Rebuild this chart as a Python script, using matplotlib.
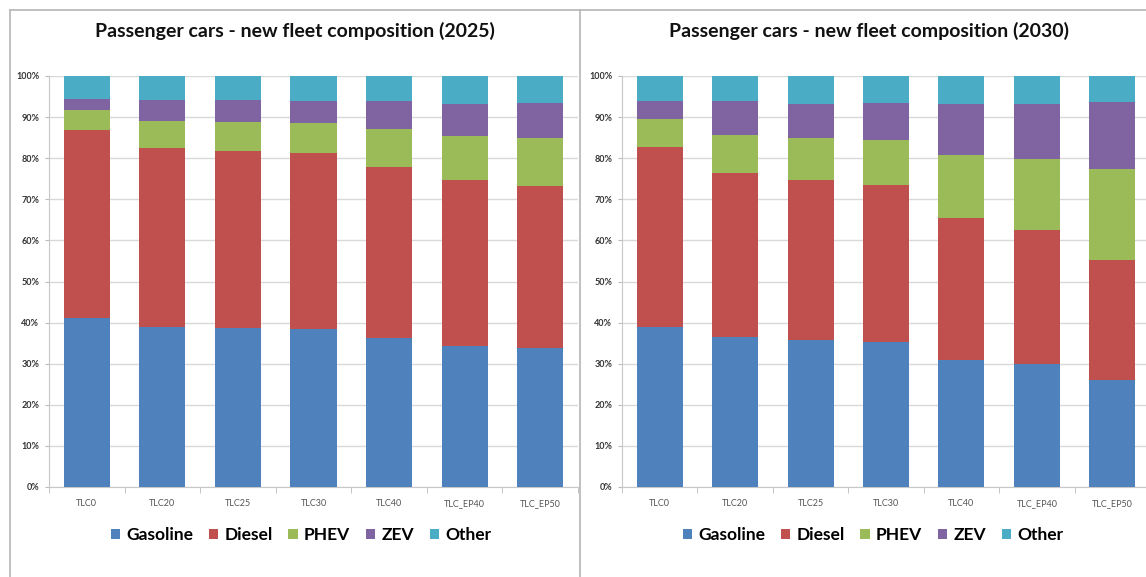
import matplotlib
matplotlib.use("Agg")
import matplotlib.pyplot as plt
import numpy as np
from matplotlib.lines import Line2D
from matplotlib.patches import Patch

categories = ["TLC0", "TLC20", "TLC25", "TLC30", "TLC40", "TLC_EP40", "TLC_EP50"]
series_names = ["Gasoline", "Diesel", "PHEV", "ZEV", "Other"]
colors = ["#4F81BD", "#C0504D", "#9BBB59", "#8064A2", "#4BACC6"]

# 2025 shares (%)
gasoline_2025 = [41.0, 39.0, 38.6, 38.4, 36.3, 34.2, 33.8]
diesel_2025 = [45.9, 43.4, 43.2, 42.9, 41.6, 40.4, 39.4]
phev_2025 = [4.8, 6.7, 7.0, 7.2, 9.2, 10.7, 11.7]
zev_2025 = [2.8, 5.1, 5.4, 5.5, 6.8, 8.0, 8.5]
other_2025 = [5.5, 5.8, 5.8, 6.0, 6.1, 6.7, 6.6]

# 2030 shares (%)
gasoline_2030 = [39.0, 36.5, 35.8, 35.2, 31.0, 30.0, 26.1]
diesel_2030 = [43.8, 39.9, 39.0, 38.4, 34.4, 32.5, 29.1]
phev_2030 = [6.8, 9.3, 10.1, 10.9, 15.4, 17.4, 22.1]
zev_2030 = [4.3, 8.1, 8.4, 8.9, 12.4, 13.4, 16.3]
other_2030 = [6.1, 6.2, 6.7, 6.6, 6.8, 6.7, 6.4]

titles = ["Passenger cars - new fleet composition (2025)",
          "Passenger cars - new fleet composition (2030)"]
yticks = [0, 10, 20, 30, 40, 50, 60, 70, 80, 90, 100]
ytick_labels = [f"{v}%" for v in yticks]

W, H = 1146, 577
fig = plt.figure(figsize=(W / 100, H / 100), dpi=100)
fig.patch.set_facecolor("white")

def fx(px):
    return px / W

def fy(py):
    return 1 - py / H

panels = [
    dict(data=[gasoline_2025, diesel_2025, phev_2025, zev_2025, other_2025],
         ax_left=49, ax_right=578, title_x=295, legend_x=301),
    dict(data=[gasoline_2030, diesel_2030, phev_2030, zev_2030, other_2030],
         ax_left=622, ax_right=1150, title_x=869, legend_x=873),
]

top_px, bot_px = 76, 487
for i, p in enumerate(panels):
    ax = fig.add_axes([fx(p["ax_left"]), fy(bot_px),
                       fx(p["ax_right"] - p["ax_left"]), (bot_px - top_px) / H])
    x = np.arange(len(categories))
    bottom = np.zeros(len(categories))
    for vals, name, c in zip(p["data"], series_names, colors):
        v = np.array(vals)
        ax.bar(x, v, bottom=bottom, width=0.61, color=c, label=name, zorder=3)
        bottom += v
    ax.set_xlim(-0.5, len(categories) - 0.5)
    ax.set_ylim(0, 100)
    ax.set_yticks(yticks)
    ax.set_yticklabels(ytick_labels, fontsize=6.5, fontweight="bold",
                       color="#333333", family="Lato")
    ax.set_xticks(x)
    ax.set_xticklabels(categories, fontsize=6.5, color="#555555", family="Lato")
    ax.set_xticks(np.arange(-0.5, len(categories), 1), minor=True)
    ax.tick_params(axis="x", which="major", length=0, pad=9)
    ax.tick_params(axis="x", which="minor", length=4, color="#bbbbbb", direction="out")
    ax.tick_params(axis="y", length=3, color="#bbbbbb", pad=4)
    ax.yaxis.grid(True, color="#d9d9d9", linewidth=1, zorder=0)
    for s in ["top", "right"]:
        ax.spines[s].set_visible(False)
    ax.spines["left"].set_color("#c8c8c8")
    ax.spines["bottom"].set_color("#c8c8c8")
    fig.text(fx(p["title_x"]), fy(31), titles[i], ha="center", va="center",
             fontsize=14, fontweight="bold", family="Lato", color="#111111")
    handles = [Patch(facecolor=c, edgecolor="none") for c in colors]
    fig.legend(handles, series_names, loc="center", ncol=5,
               bbox_to_anchor=(fx(p["legend_x"]), fy(535)), frameon=False,
               prop=dict(family="Lato", weight="bold", size=12.5),
               handlelength=0.55, handleheight=0.55, handletextpad=0.35,
               columnspacing=0.9)

# panel borders
border = "#b5b5b5"
fig.add_artist(Line2D([fx(10), fx(1146)], [fy(10), fy(10)], color=border, lw=1.2))
fig.add_artist(Line2D([fx(10), fx(10)], [fy(10), 0], color=border, lw=1.2))
fig.add_artist(Line2D([fx(580), fx(580)], [fy(10), 0], color=border, lw=1.2))

fig.savefig("out.png", dpi=100, facecolor="white")
